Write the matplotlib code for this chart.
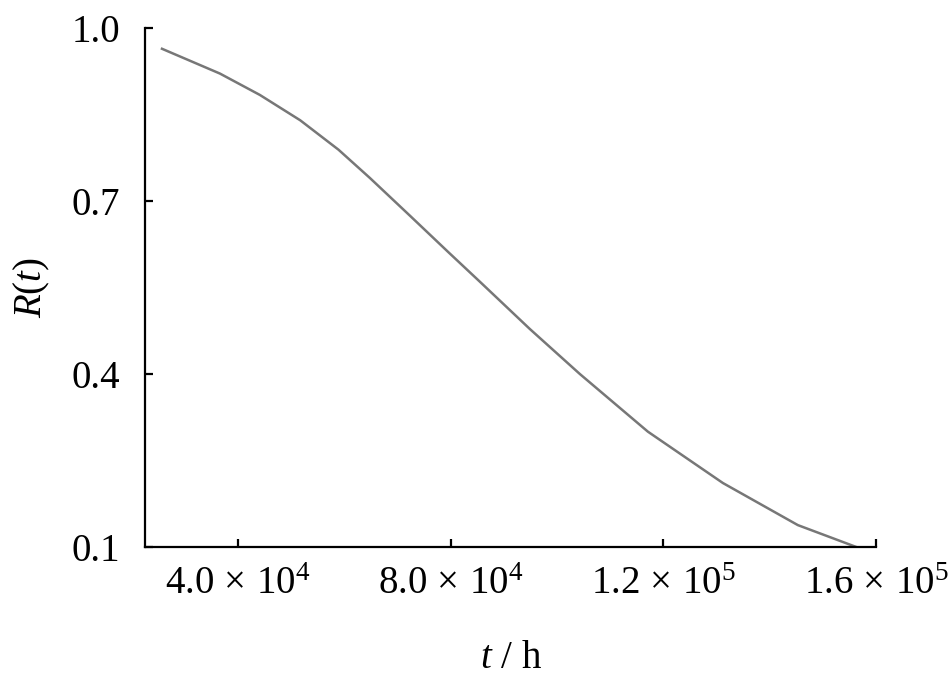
import matplotlib.pyplot as plt

plt.rcParams['font.family'] = ['Liberation Serif', 'DejaVu Serif']
plt.rcParams['mathtext.fontset'] = 'custom'
plt.rcParams['mathtext.rm'] = 'Liberation Serif'
plt.rcParams['mathtext.it'] = 'Liberation Serif:italic'

# Data
t_hours = [25700, 36600, 44100, 51700, 58900, 64800, 72400, 79600,
           85500, 94900, 104300, 117100, 131200, 145300, 156300]
reliability = [0.964, 0.921, 0.884, 0.840, 0.789, 0.740, 0.674, 0.611,
               0.560, 0.478, 0.400, 0.300, 0.211, 0.138, 0.100]

x_ticks = [4.0e4, 8.0e4, 1.2e5, 1.6e5]
x_tick_labels = [r'$4.0\,\times\,10^{4}$', r'$8.0\,\times\,10^{4}$',
                 r'$1.2\,\times\,10^{5}$', r'$1.6\,\times\,10^{5}$']
y_ticks = [0.1, 0.4, 0.7, 1.0]
y_tick_labels = ['0.1', '0.4', '0.7', '1.0']

fig = plt.figure(figsize=(9.5, 6.75), dpi=100)
ax = fig.add_axes([0.1526, 0.1896, 0.7695, 0.7689])

ax.plot(t_hours, reliability, color='#777777', linewidth=1.8)

ax.set_xlim(22500, 1.6e5)
ax.set_ylim(0.1, 1.0)
ax.set_xticks(x_ticks)
ax.set_xticklabels(x_tick_labels)
ax.set_yticks(y_ticks)
ax.set_yticklabels(y_tick_labels)

ax.spines['top'].set_visible(False)
ax.spines['right'].set_visible(False)
for s in ['left', 'bottom']:
    ax.spines[s].set_linewidth(1.6)
    ax.spines[s].set_color('black')

ax.tick_params(axis='both', which='both', direction='in', length=6,
               width=1.6, labelsize=28, colors='black')
ax.tick_params(axis='x', pad=14)
ax.tick_params(axis='y', pad=18)

ax.set_xlabel(r'$t$ / h', fontsize=28, labelpad=26)
ax.set_ylabel(r'$R$($t$)', fontsize=28, labelpad=14)

plt.savefig('out.png', dpi=100)
